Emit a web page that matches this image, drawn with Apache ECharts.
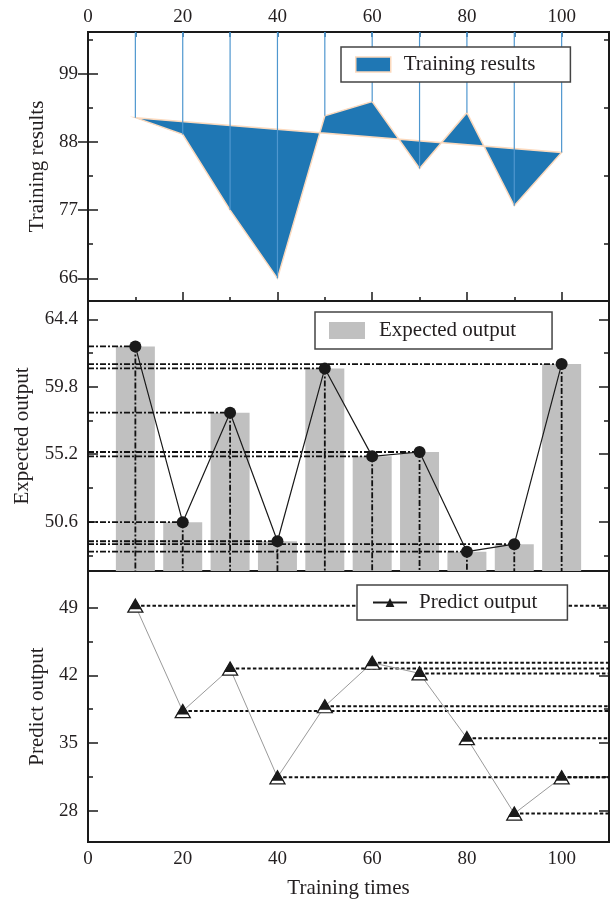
<!DOCTYPE html>
<html>
<head>
<meta charset="utf-8">
<script src="https://cdn.jsdelivr.net/npm/echarts@6/dist/echarts.min.js"></script>
<style>
html,body{margin:0;padding:0;background:#fff;}
#chart{width:611px;height:900px;}
</style>
</head>
<body>
<div id="chart"></div>
<script>
// ---- data ----
var trainingTimes = [10, 20, 30, 40, 50, 60, 70, 80, 90, 100];
var trainingResults = [91.9, 89.2, 77.0, 66.0, 92.2, 94.5, 83.7, 92.7, 77.7, 86.3];
var expectedOutput = [62.55, 50.56, 58.03, 49.26, 61.05, 55.05, 55.35, 48.55, 49.06, 61.35];
var predictOutput = [49.2, 38.3, 42.7, 31.45, 38.8, 43.3, 42.2, 35.5, 27.7, 31.45];

var xTickLabels = [0, 20, 40, 60, 80, 100];
var topMajor = [66, 77, 88, 99];
var topMinor = [71.5, 82.5, 93.5, 104.5];
var midMajor = [50.6, 55.2, 59.8, 64.4];
var midMinor = [48.3, 52.9, 57.5, 62.1];
var botMajor = [28, 35, 42, 49];
var botMinor = [31.5, 38.5, 45.5];

var X_MIN = 0, X_MAX = 110;
var TOP_RANGE = [62.35, 105.7];
var MID_RANGE = [47.23, 65.65];
var BOT_RANGE = [24.76, 52.79];

var FONT = '"Liberation Serif", "DejaVu Serif", serif';
var TXT = '#231f20';

var chart = echarts.init(document.getElementById('chart'), null, {renderer: 'canvas'});

function pairs(vals) { return trainingTimes.map(function (x, i) { return [x, vals[i]]; }); }

var grids = [
  {left: 88, right: 2, top: 32, height: 269},
  {left: 88, right: 2, top: 301, height: 270},
  {left: 88, right: 2, top: 571, height: 271}
].map(function (g) {
  return Object.assign({show: true, borderColor: '#1a1a1a', borderWidth: 2, backgroundColor: 'transparent', containLabel: false}, g);
});

function xAx(grid, pos, opts) {
  var base = {
    type: 'value', gridIndex: grid, position: pos, min: X_MIN, max: X_MAX,
    axisLine: {show: false}, splitLine: {show: false},
    axisTick: {show: false}, axisLabel: {show: false}
  };
  return Object.assign(base, opts || {});
}
function yAx(grid, pos, range, opts) {
  var base = {
    type: 'value', gridIndex: grid, position: pos, min: range[0], max: range[1],
    axisLine: {show: false}, splitLine: {show: false},
    axisTick: {show: false}, axisLabel: {show: false}
  };
  return Object.assign(base, opts || {});
}
function ticks(values, len, color) {
  return {show: true, inside: true, length: len, customValues: values, lineStyle: {color: color || '#1a1a1a', width: 1.5}};
}
function labels(values, margin) {
  return {show: true, customValues: values, margin: margin, fontFamily: FONT, fontSize: 19, color: TXT};
}

var xAxes = [
  xAx(0, 'top', {axisLabel: labels(xTickLabels, 5), axisTick: ticks([10,20,30,40,50,60,70,80,90,100], 5, '#1b5e91')}),
  xAx(0, 'bottom', {axisTick: ticks([20,40,60,80,100], 9)}),
  xAx(0, 'bottom', {axisTick: ticks([10,30,50,70,90], 4)}),
  xAx(1, 'bottom', {}),
  xAx(2, 'bottom', {axisLabel: labels(xTickLabels, 8), name: 'Training times', nameLocation: 'middle', nameGap: 36,
    nameTextStyle: {fontFamily: FONT, fontSize: 21, color: TXT}})
];

function yName(name, gap) {
  return {name: name, nameLocation: 'middle', nameGap: gap, nameTextStyle: {fontFamily: FONT, fontSize: 21, color: TXT}};
}

var yAxes = [
  yAx(0, 'left', TOP_RANGE, Object.assign({axisLabel: labels(topMajor, 10), axisTick: ticks(topMajor, 10)}, yName('Training results', 39))),
  yAx(0, 'left', TOP_RANGE, {axisTick: ticks(topMinor, 5)}),
  yAx(0, 'right', TOP_RANGE, {axisTick: ticks(topMajor, 10)}),
  yAx(0, 'right', TOP_RANGE, {axisTick: ticks(topMinor, 5)}),
  yAx(1, 'left', MID_RANGE, Object.assign({axisLabel: labels(midMajor, 10), axisTick: ticks(midMajor, 10)}, yName('Expected output', 55))),
  yAx(1, 'left', MID_RANGE, {axisTick: ticks(midMinor, 5)}),
  yAx(1, 'right', MID_RANGE, {axisTick: ticks(midMajor, 10)}),
  yAx(1, 'right', MID_RANGE, {axisTick: ticks(midMinor, 5)}),
  yAx(2, 'left', BOT_RANGE, Object.assign({axisLabel: labels(botMajor, 10), axisTick: ticks(botMajor, 10)}, yName('Predict output', 39))),
  yAx(2, 'left', BOT_RANGE, {axisTick: ticks(botMinor, 5)}),
  yAx(2, 'right', BOT_RANGE, {axisTick: ticks(botMajor, 10)}),
  yAx(2, 'right', BOT_RANGE, {axisTick: ticks(botMinor, 5)})
];

var series = [
  // --- top panel: filled area between result line and trend line
  {
    name: 'Training results', type: 'custom', xAxisIndex: 0, yAxisIndex: 0, z: 2,
    data: [[trainingTimes[0], trainingResults[0]]],
    itemStyle: {color: '#1f77b4', borderColor: '#fbd9bd', borderWidth: 1.5},
    renderItem: function (params, api) {
      var pts = trainingTimes.map(function (x, i) { return api.coord([x, trainingResults[i]]); });
      return {type: 'polygon', shape: {points: pts}, style: {fill: '#1f77b4', stroke: '#fbd9bd', lineWidth: 1.5, lineJoin: 'miter'}};
    }
  },
  {
    name: 'drop', type: 'custom', xAxisIndex: 0, yAxisIndex: 0, z: 3,
    data: pairs(trainingResults),
    renderItem: function (params, api) {
      var x = api.value(0), v = api.value(1);
      var a = api.coord([x, TOP_RANGE[1]]), b = api.coord([x, v]);
      return {type: 'line', shape: {x1: a[0], y1: a[1], x2: b[0], y2: b[1]}, style: {stroke: '#4f97cf', lineWidth: 1.2}};
    }
  },
  // --- middle panel
  {
    name: 'Expected output', type: 'bar', xAxisIndex: 3, yAxisIndex: 4, z: 2,
    data: pairs(expectedOutput), barWidth: 39,
    itemStyle: {color: '#c0c0c0'}
  },
  {
    name: 'guides', type: 'custom', xAxisIndex: 3, yAxisIndex: 4, z: 3,
    data: pairs(expectedOutput),
    renderItem: function (params, api) {
      var x = api.value(0), v = api.value(1);
      var p = api.coord([x, v]), l = api.coord([X_MIN, v]), b = api.coord([x, MID_RANGE[0]]);
      var st = {stroke: '#111', lineWidth: 1.8, lineDash: [6, 2, 2, 2]};
      return {type: 'group', children: [
        {type: 'line', shape: {x1: l[0], y1: l[1], x2: p[0], y2: p[1]}, style: st},
        {type: 'line', shape: {x1: p[0], y1: p[1], x2: b[0], y2: b[1]}, style: st}
      ]};
    }
  },
  {
    name: 'expected line', type: 'line', xAxisIndex: 3, yAxisIndex: 4, z: 4,
    data: pairs(expectedOutput), symbol: 'circle', symbolSize: 12,
    lineStyle: {color: '#1a1a1a', width: 1.2}, itemStyle: {color: '#1a1a1a'}
  },
  // --- bottom panel
  {
    name: 'dots', type: 'custom', xAxisIndex: 4, yAxisIndex: 8, z: 2,
    data: pairs(predictOutput),
    renderItem: function (params, api) {
      var x = api.value(0), v = api.value(1);
      var p = api.coord([x, v]), r = api.coord([X_MAX, v]);
      return {type: 'line', shape: {x1: p[0], y1: p[1], x2: r[0], y2: r[1]}, style: {stroke: '#111', lineWidth: 2, lineDash: [3.5, 2.2]}};
    }
  },
  {
    name: 'predict line', type: 'line', xAxisIndex: 4, yAxisIndex: 8, z: 3,
    data: pairs(predictOutput), symbol: 'triangle', symbolSize: [15, 13],
    lineStyle: {color: '#9a9a9a', width: 1},
    itemStyle: {color: '#fff', borderColor: '#1a1a1a', borderWidth: 1.3}
  },
  {
    name: 'Predict output', type: 'line', xAxisIndex: 4, yAxisIndex: 8, z: 4,
    data: pairs(predictOutput), symbol: 'triangle', symbolSize: [12.5, 10], symbolOffset: [0, -1.5],
    lineStyle: {width: 0, color: '#1a1a1a'},
    itemStyle: {color: '#1a1a1a'}
  }
];

var legendBase = {
  orient: 'horizontal', backgroundColor: '#fff', borderColor: '#444', borderWidth: 1.5, borderRadius: 0,
  z: 10, selectedMode: false,
  textStyle: {fontFamily: FONT, fontSize: 21, color: TXT}
};

var legends = [
  Object.assign({}, legendBase, {
    left: 341, top: 47, padding: [7, 35, 7, 14], itemWidth: 35, itemHeight: 15,
    textStyle: Object.assign({}, legendBase.textStyle, {padding: [0, 0, 0, 8]}),
    data: [{name: 'Training results', icon: 'rect', itemStyle: {color: '#1f77b4', borderColor: '#fbd9bd', borderWidth: 1.5}}]
  }),
  Object.assign({}, legendBase, {
    left: 315, top: 312, padding: [8, 36, 8, 14], itemWidth: 36, itemHeight: 17,
    textStyle: Object.assign({}, legendBase.textStyle, {padding: [0, 0, 0, 9]}),
    data: [{name: 'Expected output', icon: 'rect', itemStyle: {color: '#c0c0c0'}}]
  }),
  Object.assign({}, legendBase, {
    left: 357, top: 585, padding: [7, 30, 7, 15], itemWidth: 34, itemHeight: 11,
    textStyle: Object.assign({}, legendBase.textStyle, {padding: [0, 0, 0, 7]}),
    data: [{name: 'Predict output', itemStyle: {color: '#1a1a1a'}, lineStyle: {color: '#1a1a1a', width: 2}}]
  })
];

chart.setOption({
  animation: false,
  backgroundColor: '#fff',
  grid: grids,
  xAxis: xAxes,
  yAxis: yAxes,
  legend: legends,
  series: series
});
</script>
</body>
</html>
